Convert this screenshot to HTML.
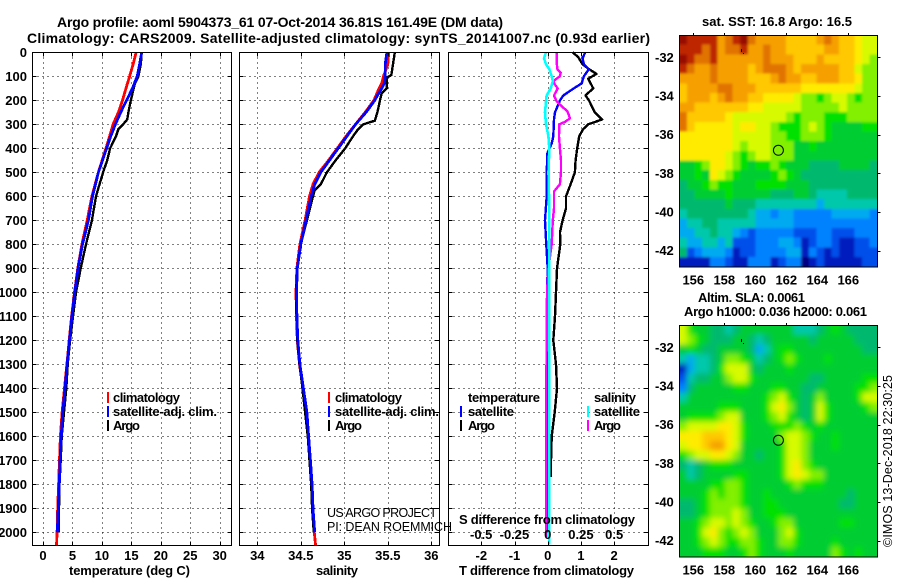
<!DOCTYPE html>
<html>
<head>
<meta charset="utf-8">
<title>Argo profile 5904373_61</title>
<style>
html,body{margin:0;padding:0;background:#fff;}
svg{display:block;font-family:"Liberation Sans",sans-serif;}
text{fill:#000;}
.b{font-weight:bold;font-size:13px;}
.t{font-weight:bold;font-size:14px;}
.thin{font-weight:normal;font-size:12.5px;}
</style>
</head>
<body>
<svg id="chart" xmlns="http://www.w3.org/2000/svg" width="900" height="580" viewBox="0 0 900 580">
<defs>
<filter id="blur-sst" x="-10%" y="-10%" width="120%" height="120%"><feGaussianBlur stdDeviation="1.4"/></filter>
<filter id="blur-sla" x="-10%" y="-10%" width="120%" height="120%"><feGaussianBlur stdDeviation="3"/></filter>
<clipPath id="clip-map1"><rect x="679.5" y="35.3" width="198" height="231.7"/></clipPath>
<clipPath id="clip-map2"><rect x="679.5" y="325.3" width="198" height="231.7"/></clipPath>
</defs>
<rect width="900" height="580" fill="#fff"/>
<g id="map1"></g>
<g id="map2"></g>
<g id="grid" shape-rendering="crispEdges"></g>
<g id="lines" shape-rendering="crispEdges"></g>
<g id="frames" shape-rendering="crispEdges"></g>
<g id="labels"></g>

<text class="t" x="57" y="27" textLength="446">Argo profile: aoml 5904373_61 07-Oct-2014 36.81S 161.49E (DM data)</text>
<text class="t" x="27" y="43" textLength="623">Climatology: CARS2009. Satellite-adjusted climatology: synTS_20141007.nc (0.93d earlier)</text>

<text class="b" x="69" y="575" textLength="121">temperature (deg C)</text>
<text class="b" x="316" y="575" textLength="42">salinity</text>
<text class="b" x="459" y="575" textLength="175">T difference from climatology</text>
<text class="b" x="459" y="524" textLength="176">S difference from climatology</text>

<g>
<rect x="107" y="392" width="2" height="11" fill="#f00" shape-rendering="crispEdges"/>
<text class="b" x="113" y="402" textLength="67">climatology</text>
<rect x="107" y="406" width="2" height="11" fill="#00f" shape-rendering="crispEdges"/>
<text class="b" x="113" y="416" textLength="104">satellite-adj. clim.</text>
<rect x="107" y="420" width="2" height="11" fill="#000" shape-rendering="crispEdges"/>
<text class="b" x="113" y="430" textLength="27">Argo</text>
</g>
<g>
<rect x="328" y="392" width="2" height="11" fill="#f00" shape-rendering="crispEdges"/>
<text class="b" x="335" y="402" textLength="67">climatology</text>
<rect x="328" y="406" width="2" height="11" fill="#00f" shape-rendering="crispEdges"/>
<text class="b" x="335" y="416" textLength="104">satellite-adj. clim.</text>
<rect x="328" y="420" width="2" height="11" fill="#000" shape-rendering="crispEdges"/>
<text class="b" x="335" y="430" textLength="27">Argo</text>
</g>
<g>
<text class="b" x="468" y="402" textLength="72">temperature</text>
<rect x="460" y="406" width="2" height="11" fill="#00f" shape-rendering="crispEdges"/>
<text class="b" x="468" y="416" textLength="46">satellite</text>
<rect x="460" y="420" width="2" height="11" fill="#000" shape-rendering="crispEdges"/>
<text class="b" x="468" y="430" textLength="27">Argo</text>
<text class="b" x="594" y="402" textLength="42">salinity</text>
<rect x="587" y="406" width="2" height="11" fill="#0ff" shape-rendering="crispEdges"/>
<text class="b" x="594" y="416" textLength="46">satellite</text>
<rect x="587" y="420" width="2" height="11" fill="#f0f" shape-rendering="crispEdges"/>
<text class="b" x="594" y="430" textLength="27">Argo</text>
</g>

<text class="thin" x="327" y="517" textLength="110">US ARGO PROJECT</text>
<text class="thin" x="327" y="531" textLength="125">PI: DEAN ROEMMICH</text>

<text class="b" x="702" y="26" textLength="150">sat. SST: 16.8 Argo: 16.5</text>
<text class="b" x="698" y="302" textLength="107">Altim. SLA: 0.0061</text>
<text class="b" x="684" y="316" textLength="183">Argo h1000: 0.036 h2000: 0.061</text>
<text class="thin" transform="translate(892,547) rotate(-90)" x="0" y="0" textLength="172">©IMOS 13-Dec-2018 22:30:25</text>
</svg>
<script>
// ---- temperature panel data (deg C vs dbar)
var tempClimDepths = [0,50,100,150,200,250,300,350,400,500,600,700,800,900,1000,1100,1200,1300,1400,1500,1600,1700,1800,1900,2000,2055];
var tempClim = [15.8,15.3,14.7,14.1,13.5,12.8,11.9,11.3,10.7,9.4,8.3,7.5,6.6,5.9,5.35,4.85,4.45,4.05,3.65,3.25,2.95,2.8,2.65,2.5,2.4,2.3];
var tempSatDepths = [0,50,100,150,200,250,300,350,400,500,600,700,800,900,1000,1100,1200,1300,1400,1500,1600,1700,1800,1900,2000];
var tempSat = [16.75,16.4,16,15.2,14.2,13.2,12.3,11.5,10.8,9.4,8.4,7.7,6.7,5.95,5.4,4.9,4.5,4.1,3.74,3.34,3.1,2.9,2.77,2.6,2.43];
var tempArgoDepths = [0,50,100,130,200,250,280,300,320,350,400,450,500,550,600,700,800,900,1000,1100,1200,1300,1400,1500,1600,1700,1800,1900,2000];
var tempArgo = [16.75,16.6,16.2,15.6,14.9,14.5,14.3,13.6,12.8,12.4,11.4,10.9,10.2,9.6,9,8.3,7.3,6.4,5.6,5.1,4.6,4.2,3.95,3.57,3.17,3,2.8,2.72,2.66];

// ---- salinity panel data (psu vs dbar)
var salClimDepths = [0,50,100,130,150,200,250,300,350,400,450,500,550,600,700,800,900,1000,1100,1200,1300,1400,1500,1600,1700,1800,1900,2000,2055];
var salClim = [35.51,35.5,35.45,35.43,35.4,35.34,35.24,35.13,35.02,34.92,34.82,34.71,34.64,34.6,34.55,34.49,34.455,34.445,34.45,34.46,34.485,34.525,34.565,34.585,34.605,34.625,34.64,34.655,34.67];
var salSatDepths = [0,50,100,130,150,180,200,250,300,350,400,450,500,550,600,650,700,800,900,1000,1100,1200,1300,1400,1500,1600,1700,1800,1900,2000];
var salSat = [35.49,35.47,35.47,35.46,35.43,35.38,35.35,35.25,35.13,35.03,34.93,34.83,34.73,34.66,34.62,34.59,34.56,34.5,34.46,34.45,34.455,34.465,34.49,34.53,34.57,34.59,34.61,34.63,34.64,34.66];
var salArgoDepths = [0,50,95,105,150,170,200,250,285,300,320,350,400,450,500,550,575,600,700,800,900,1000,1100,1200,1300,1400,1500,1600,1700,1800,1900,2000];
var salArgo = [35.58,35.56,35.54,35.49,35.49,35.43,35.41,35.38,35.35,35.22,35.16,35.1,35.01,34.9,34.8,34.73,34.66,34.64,34.57,34.5,34.46,34.445,34.45,34.46,34.485,34.52,34.55,34.58,34.6,34.62,34.63,34.65];

// ---- difference panel data
var diffTArgoDepths = [0,20,50,70,90,110,150,180,200,250,280,300,320,350,400,450,500,550,600,650,700,750,800,900,1000,1100,1200,1300,1400,1500,1600,1700,1770];
var diffTArgo = [0.75,0.92,1.05,1.24,1.47,1.22,1.37,1.14,1.24,1.42,1.64,1.22,1.07,0.95,0.89,0.84,0.82,0.69,0.55,0.55,0.45,0.37,0.38,0.28,0.25,0.22,0.17,0.25,0.28,0.21,0.12,0.1,0.1];
var diffTSatDepths = [0,25,50,70,100,130,150,180,200,250,280,350,380,420,500,600,700,780,900,1000,1200,1400,1600,1800,2000];
var diffTSat = [1.13,1.05,1.09,1.24,1.09,1.02,0.79,0.47,0.37,0.22,0.19,0.17,0.12,-0.01,-0.03,-0.03,-0.08,-0.05,0,-0.02,-0.03,-0.03,-0.02,-0.01,0];
var diffSSatDepths = [0,25,50,70,100,120,150,180,250,300,350,400,500,600,700,800,1000,1400,1800,2050];
var diffSSat = [-0.013,-0.028,-0.013,0.012,0.03,0.038,0.023,-0.008,-0.02,-0.013,0.005,0.012,0.006,0.01,0.012,0.012,0.012,0.012,0.012,0.011];
var diffSArgoDepths = [0,40,70,85,100,120,135,150,180,205,225,245,275,290,300,350,400,450,500,550,580,650,700,800,900,1000,1500,2020];
var diffSArgo = [0.068,0.068,0.072,0.098,0.092,0.042,0.055,0.075,0.047,0.068,0.105,0.147,0.168,0.13,0.087,0.085,0.092,0.1,0.1,0.092,0.047,0.047,0.038,0.03,0.005,-0.005,-0.012,-0.012];

// ---- axis tick labels
var depthTicks = [0,100,200,300,400,500,600,700,800,900,1000,1100,1200,1300,1400,1500,1600,1700,1800,1900,2000];
var tempTicks = [0,5,10,15,20,25,30];
var salTicks = [34,34.5,35,35.5,36];
var diffTTicks = [-2,-1,0,1,2];
var diffSTicks = [-0.5,-0.25,0,0.25,0.5];
var lonTicks = [156,158,160,162,164,166];
var latTicks = [-32,-34,-36,-38,-40,-42];

// ---- map colour-class palette and rows (top-to-bottom, 0.48 deg of lon per column)
var palette = ['#000082','#001ebe','#0050eb','#0082ff','#00aaf0','#00c8aa','#00b96e','#00cd32','#00e100','#82f000','#d7fa00','#ffeb00','#ffc800','#f5a000','#e17300','#be2800','#960f00'];
var sstRows = [
[16,15,15,15,15,13,14,15,16,14,13,13,13,13,12,12,12,12,13,14,13,12,12,11,10,10],
[15,15,15,14,15,13,14,14,15,13,13,14,13,13,12,12,12,12,12,13,13,12,12,11,10,10],
[16,15,14,14,15,13,13,13,13,13,13,14,13,13,13,12,12,12,13,12,12,12,12,11,10,9],
[15,14,13,13,14,13,13,13,13,12,13,14,14,14,13,12,13,13,13,13,13,12,12,10,9,9],
[13,13,13,13,14,13,13,13,13,12,12,12,13,14,13,13,12,12,13,13,13,12,12,11,9,9],
[12,13,13,13,13,14,14,13,13,13,12,12,12,12,12,12,11,11,11,11,11,11,11,10,9,9],
[12,13,13,13,12,13,14,13,13,12,12,11,11,11,11,10,9,9,8,9,10,10,9,8,9,9],
[13,13,12,12,12,12,12,12,12,11,11,10,10,10,10,10,9,9,9,9,9,10,9,9,9,9],
[14,12,12,12,12,12,11,10,10,10,10,10,10,10,9,8,9,9,9,8,8,8,9,9,9,9],
[14,12,11,11,11,11,11,10,11,11,10,10,9,8,8,8,9,10,9,8,7,7,7,7,8,8],
[11,11,11,11,11,11,11,10,10,10,10,10,9,9,8,8,9,9,9,8,7,7,7,7,7,7],
[11,11,11,11,11,11,11,10,9,10,10,10,9,9,9,7,7,8,7,7,7,7,7,7,7,7],
[11,11,11,11,11,11,10,9,8,9,10,10,9,9,9,7,7,7,7,7,7,7,7,7,7,7],
[7,7,8,9,11,11,10,9,8,7,8,8,9,8,7,7,7,6,6,6,6,7,7,7,7,6],
[7,7,8,7,11,10,9,8,7,7,7,7,8,9,8,7,6,6,6,6,6,6,6,6,6,6],
[6,7,7,8,9,8,8,7,7,7,8,8,8,8,7,7,7,6,6,6,6,6,6,6,6,6],
[6,6,7,7,7,7,8,7,7,7,7,7,6,6,6,7,7,6,5,5,5,5,6,6,6,6],
[6,6,6,6,6,6,7,6,6,6,5,5,5,5,5,5,5,5,4,5,5,5,5,5,5,5],
[5,6,6,6,6,6,6,6,6,5,4,4,3,4,4,3,3,3,3,3,4,4,4,4,4,3],
[4,5,5,6,6,5,5,5,5,5,4,4,4,4,4,3,3,3,3,3,3,3,3,3,3,3],
[4,4,5,5,6,5,5,4,3,2,3,3,3,3,3,2,2,2,3,3,2,2,2,3,3,3],
[5,4,4,5,5,4,5,2,2,2,3,3,3,4,4,3,1,2,3,3,2,1,1,2,2,3],
[6,2,3,4,4,4,3,1,2,2,3,3,3,3,4,4,1,3,2,1,2,1,1,2,2,2],
[1,1,1,1,3,3,2,1,1,3,3,3,1,2,3,3,0,1,2,1,1,1,1,1,2,2]
];
var slaRows = [
[10,8,7,7,6,6,5,6,7,7,7,7,7,7,7,5,5,5,6,7,8,7,6,6,6,6],
[10,9,8,7,6,6,6,7,7,6,5,6,7,7,7,7,7,6,7,7,7,7,7,6,6,6],
[7,8,7,6,6,7,7,7,7,6,4,5,7,8,8,7,7,7,7,7,7,7,7,7,6,6],
[5,4,5,5,6,7,9,9,8,7,5,6,7,8,9,8,7,7,7,8,7,7,7,7,7,7],
[1,4,5,5,6,8,10,10,10,7,6,7,7,7,8,7,7,7,7,7,7,7,7,7,7,7],
[2,5,6,6,7,7,9,10,10,8,7,7,7,7,7,7,7,6,6,7,7,7,7,7,8,8],
[3,6,7,7,7,7,7,8,8,7,7,7,8,8,7,7,6,6,7,7,7,7,7,8,8,9],
[5,7,7,7,7,7,7,7,7,7,7,8,9,10,8,7,6,7,9,7,7,7,7,8,10,10],
[7,7,7,7,7,8,8,8,7,7,7,8,10,11,9,7,6,7,10,8,7,7,7,7,8,9],
[7,8,8,8,8,9,10,10,7,7,7,8,9,10,8,7,6,7,10,8,7,7,7,7,7,7],
[9,10,10,10,10,11,11,10,8,7,7,7,8,8,8,9,8,7,8,7,7,7,7,7,7,7],
[11,11,11,12,12,12,11,10,8,7,7,7,7,9,10,10,9,8,7,7,8,7,7,7,7,7],
[10,11,11,12,13,13,11,10,7,7,7,7,7,8,10,10,9,7,7,7,8,7,7,7,7,7],
[8,9,10,10,11,11,10,9,7,7,6,7,7,8,10,10,9,7,7,7,7,7,7,7,7,7],
[6,5,6,7,8,8,8,7,7,7,7,7,7,8,10,11,9,8,7,7,7,7,7,7,7,7],
[7,5,6,7,7,7,7,8,8,7,7,7,7,8,10,11,10,9,9,7,7,7,7,7,7,7],
[7,7,7,7,8,8,9,9,8,7,7,7,7,7,8,9,8,8,8,7,7,7,7,7,7,7],
[7,7,7,8,9,8,9,9,8,7,7,8,7,7,7,7,7,7,7,7,7,7,6,7,7,7],
[6,6,7,8,9,9,9,9,8,7,7,8,8,7,7,7,7,7,7,7,7,6,6,7,7,7],
[6,6,7,8,9,9,9,10,9,7,7,8,8,8,7,7,7,7,7,7,7,7,7,7,7,7],
[7,7,8,9,10,10,9,10,9,8,7,7,8,9,9,7,7,7,7,7,7,8,8,7,7,7],
[7,7,8,10,11,9,8,9,10,9,7,7,7,9,10,8,7,7,7,7,7,7,7,7,7,7],
[7,7,8,9,10,9,8,8,9,9,8,7,7,9,9,8,7,7,7,7,8,7,7,7,7,7],
[7,7,7,8,8,8,7,7,8,9,8,7,7,7,8,7,7,7,7,7,9,8,7,8,7,7]
];
var argoLon = [161.49];
var argoLat = [-36.81];

var NS = 'http://www.w3.org/2000/svg';
function mk(tag, parent, attrs) {
  var el = document.createElementNS(NS, tag);
  for (var k in attrs) el.setAttribute(k, attrs[k]);
  parent.appendChild(el);
  return el;
}
// ---- axis functions
var panelTop = 52.3, panelBottom = 545.3;
function depthY(d) { return 52.3 + 0.24 * d; }
function tempX(t) { return 43 + 5.89 * t; }
function salX(s) { return 257.3 + 87 * (s - 34); }
function diffTX(t) { return 547.7 + 33.2 * t; }
function diffSX(s) { return 547.7 + 133 * s; }
function lonX(lon) { return 693.3 + 15.5 * (lon - 156); }
function lat1Y(lat) { return 57.3 + 19.33 * (-32 - lat); }
function lat2Y(lat) { return 347.3 + 19.33 * (-32 - lat); }

var gridG = document.getElementById('grid');
var linesG = document.getElementById('lines');
var framesG = document.getElementById('frames');
var labelsG = document.getElementById('labels');

function label(str, x, y, anchor, name) {
  var t = mk('text', labelsG, {x: x, y: y, 'text-anchor': anchor, 'class': 'b'});
  
  
  t.textContent = str;
}
function gridLine(x1, y1, x2, y2, name) {
  var l = mk('line', gridG, {x1: x1, y1: y1, x2: x2, y2: y2, stroke: '#000', 'stroke-width': 1, 'stroke-dasharray': '1 4'});
  
  
}
function tick(x1, y1, x2, y2, name) {
  var l = mk('line', framesG, {x1: x1, y1: y1, x2: x2, y2: y2, stroke: '#000', 'stroke-width': 1});
  
  
}
function frame(x0, x1, name) {
  var r = mk('rect', framesG, {x: x0, y: panelTop, width: x1 - x0, height: panelBottom - panelTop, fill: 'none', stroke: '#000', 'stroke-width': 1});
  
  
  depthTicks.forEach(function (d) {
    var y = Math.round(depthY(d)) + 0.5;
    if (d > 0) {
      gridLine(x0, y, x1, y, 'depth-grid-line');
      tick(x0, y, x0 + 4, y, 'depth-tick');
      tick(x1 - 4, y, x1, y, 'depth-tick');
    }
  });
}
function vTicks(values, fx, fmt, x0, x1, name) {
  values.forEach(function (v) {
    var x = Math.round(fx(v)) + 0.5;
    gridLine(x, panelTop, x, panelBottom, name + '-grid-line');
    tick(x, panelTop, x, panelTop + 4, name + '-tick');
    tick(x, panelBottom - 4, x, panelBottom, name + '-tick');
    label(fmt(v), fx(v), 560, 'middle', name + '-tick-label');
  });
}
function profile(depths, vals, fx, colour, w, name) {
  var pts = [];
  for (var i = 0; i < depths.length; i++) pts.push(fx(vals[i]).toFixed(1) + ',' + depthY(depths[i]).toFixed(1));
  var p = mk('polyline', linesG, {points: pts.join(' '), fill: 'none', stroke: colour, 'stroke-width': w, 'stroke-linejoin': 'round'});
  
  
}

frame(32.5, 231.5, 'temperature-panel-frame');
frame(239.5, 439.5, 'salinity-panel-frame');
frame(448.5, 648.5, 'difference-panel-frame');
vTicks(tempTicks, tempX, String, 32.5, 231.5, 'temperature');
vTicks(salTicks, salX, String, 239.5, 439.5, 'salinity');
vTicks(diffTTicks, diffTX, String, 448.5, 648.5, 'difference-t');

diffSTicks.forEach(function (v) {
  label(String(v), diffSX(v), 539, 'middle', 's-difference-tick-label');
});
depthTicks.forEach(function (d) {
  label(String(d), 27, depthY(d) + 4.5, 'end', 'depth-tick-label');
});

profile(tempClimDepths, tempClim, tempX, '#f00', 2.8, 'temperature-climatology-line');
profile(tempArgoDepths, tempArgo, tempX, '#000', 2.4, 'temperature-argo-line');
profile(tempSatDepths, tempSat, tempX, '#00f', 2.8, 'temperature-satellite-line');
profile(salClimDepths, salClim, salX, '#f00', 2.8, 'salinity-climatology-line');
profile(salArgoDepths, salArgo, salX, '#000', 2.4, 'salinity-argo-line');
profile(salSatDepths, salSat, salX, '#00f', 2.8, 'salinity-satellite-line');
profile(diffTArgoDepths, diffTArgo, diffTX, '#000', 2.4, 'difference-t-argo-line');
profile(diffTSatDepths, diffTSat, diffTX, '#00f', 2.4, 'difference-t-satellite-line');
profile(diffSArgoDepths, diffSArgo, diffSX, '#f0f', 2.4, 'difference-s-argo-line');
profile(diffSSatDepths, diffSSat, diffSX, '#0ff', 2.6, 'difference-s-satellite-line');

function drawMap(groupId, rows, top, bottom, latY, namePrefix, clipId, blurId) {
  var g = document.getElementById(groupId);
  var left = 679.3, right = 877.3;
  var cw = (right - left) / rows[0].length, ch = (bottom - top) / rows.length;
  var clipG = mk('g', g, {'clip-path': 'url(#' + clipId + ')'});
  
  
  var cells = mk('g', clipG, {filter: 'url(#' + blurId + ')', 'shape-rendering': 'crispEdges'});
  
  
  var pad = 12;
  rows.forEach(function (row, j) {
    row.forEach(function (level, i) {
      var x = left + i * cw, y = top + j * ch, w = cw + 0.6, h = ch + 0.6;
      if (i === 0) { x -= pad; w += pad; }
      if (i === row.length - 1) { w += pad; }
      if (j === 0) { y -= pad; h += pad; }
      if (j === rows.length - 1) { h += pad; }
      var r = mk('rect', cells, {x: x.toFixed(2), y: y.toFixed(2), width: w.toFixed(2), height: h.toFixed(2), fill: palette[level]});
      
      
    });
  });
  var fr = mk('rect', g, {x: 679.5, y: top + 0.3, width: 198, height: bottom - top, fill: 'none', stroke: '#000', 'stroke-width': 1, 'shape-rendering': 'crispEdges'});
  
  
  lonTicks.forEach(function (lon) {
    var x = Math.round(lonX(lon)) + 0.5;
    var t1 = mk('line', g, {x1: x, y1: top - 2, x2: x, y2: top, stroke: '#000', 'stroke-width': 1, 'shape-rendering': 'crispEdges'});
    
    
    label(String(lon), lonX(lon), bottom + 18, 'middle', namePrefix + '-lon-label');
  });
  latTicks.forEach(function (lat) {
    var y = Math.round(latY(lat)) + 0.5;
    var t2 = mk('line', g, {x1: right, y1: y, x2: right + 3, y2: y, stroke: '#000', 'stroke-width': 1, 'shape-rendering': 'crispEdges'});
    
    
    label(String(lat), 655, latY(lat) + 4.5, 'start', namePrefix + '-lat-label');
  });
  var c = mk('circle', labelsG, {cx: lonX(argoLon[0]), cy: latY(argoLat[0]), r: 5, fill: 'none', stroke: '#000', 'stroke-width': 1});
  
  
  var m = mk('path', g, {d: 'M741 ' + (top + 14) + 'h1v3h-1z M743 ' + (top + 18) + 'h1v1h-1z', fill: '#000'});
  
  
}
drawMap('map1', sstRows, 35, 266.7, lat1Y, 'sst-map', 'clip-map1', 'blur-sst');
drawMap('map2', slaRows, 325, 556.7, lat2Y, 'sla-map', 'clip-map2', 'blur-sla');
</script>
</body>
</html>
